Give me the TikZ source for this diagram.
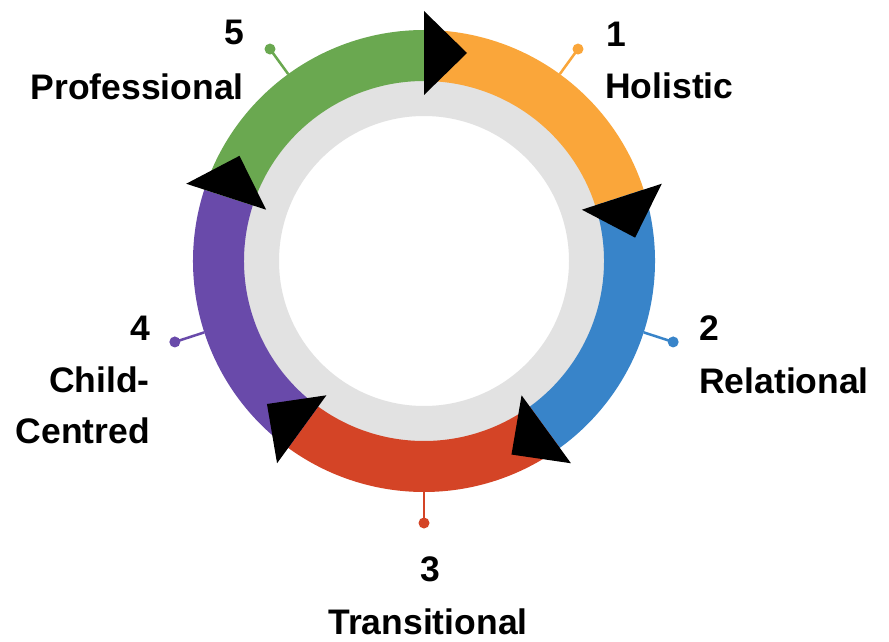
\documentclass[tikz,border=0pt]{standalone}
\usepackage{fontspec}
\setmainfont{Liberation Sans}
\usetikzlibrary{calc}
\definecolor{cOrange}{RGB}{250,166,58}
\definecolor{cBlue}{RGB}{56,132,201}
\definecolor{cRed}{RGB}{212,68,38}
\definecolor{cPurple}{RGB}{105,74,170}
\definecolor{cGreen}{RGB}{106,168,80}
\definecolor{cGray}{RGB}{226,226,226}
\tikzset{
  lbl/.style={font=\fontsize{35.5}{40}\selectfont\bfseries, text=black, inner sep=0pt},
}
\newcommand{\ringseg}[3]{% color, start, end
  \fill[#1] ($(C)+(#2:231)$) arc[start angle=#2, end angle=#3, radius=231]
    -- ($(C)+(#3:180)$) arc[start angle=#3, end angle=#2, radius=180] -- cycle;}
\newcommand{\ringpin}[2]{% color, angle
  \draw[#1, line width=2.5pt] ($(C)+(#2:231)$) -- ($(C)+(#2:258)$);
  \fill[#1] ($(C)+(#2:262)$) circle[radius=5.5];}
\newcommand{\ringarrow}[1]{% boundary angle
  \fill[black] ($(C)+(#1:166)$) -- ($(C)+(#1:250)$) -- ($(C)+(#1:208)+(#1-90:43)$) -- cycle;}
\begin{document}
\begin{tikzpicture}[x=1pt,y=1pt]
\useasboundingbox (0,0) rectangle (889,641);
\fill[white] (0,0) rectangle (889,641);
\coordinate (C) at (424,380);
% gray inner ring
\fill[cGray, even odd rule] (C) circle[radius=182] (C) circle[radius=145];
% colored segments
\ringseg{cOrange}{18}{90}
\ringseg{cBlue}{-54}{18}
\ringseg{cRed}{-126}{-54}
\ringseg{cPurple}{162}{234}
\ringseg{cGreen}{90}{162}
% pins
\ringpin{cOrange}{54}
\ringpin{cBlue}{-18}
\ringpin{cRed}{-90}
\ringpin{cPurple}{198}
\ringpin{cGreen}{126}
% arrows
\ringarrow{90}
\ringarrow{18}
\ringarrow{-54}
\ringarrow{-126}
\ringarrow{162}
% labels
\node[lbl, anchor=base west] (n1) at (606,594) {1};
\node[lbl, anchor=base west] (t1) at (605,542) {Holistic};
\node[lbl, anchor=base west] (n2) at (699,301) {2};
\node[lbl, anchor=base west] (t2) at (699,248) {Relational};
\node[lbl, anchor=base] (n3) at (430,60) {3};
\node[lbl, anchor=base] (t3) at (428,7) {Transitional};
\node[lbl, anchor=base east] (n4) at (150,301) {4};
\node[lbl, anchor=base east] (t4a) at (150,249) {Child-};
\node[lbl, anchor=base east] (t4b) at (150,198) {Centred};
\node[lbl, anchor=base east] (n5) at (244,596) {5};
\node[lbl, anchor=base east] (t5) at (244,541) {Professional};
\end{tikzpicture}
\end{document}
